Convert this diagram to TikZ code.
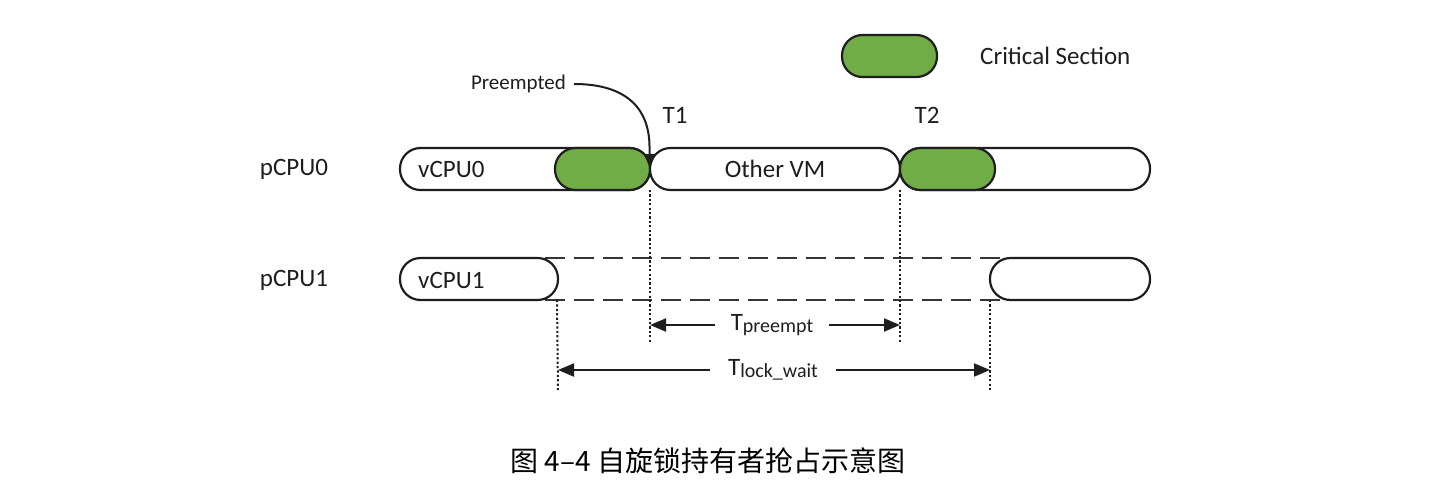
\documentclass[tikz,border=0pt]{standalone}
\usepackage{fontspec}
\setmainfont{Carlito}
\newfontfamily\cjk{Noto Sans CJK SC}
\usetikzlibrary{arrows.meta}
\definecolor{csgreen}{RGB}{112,173,71}
\definecolor{ink}{RGB}{30,30,30}
\tikzset{
  bar/.style={draw=ink, line width=2.2pt, fill=white, rounded corners=20.5pt, minimum height=42pt, inner sep=0pt, outer sep=0pt},
  crit/.style={bar, fill=csgreen},
  lbl/.style={font=\fontsize{25}{28}\selectfont, inner sep=0pt, text=ink},
  small/.style={font=\fontsize{21}{24}\selectfont, inner sep=0pt, text=ink},
  dashline/.style={draw=ink!90, line width=2.2pt, dash pattern=on 20pt off 9pt},
  dotline/.style={draw=ink, line width=2pt, dash pattern=on 2.2pt off 2.2pt},
  dimarrow/.style={draw=ink, line width=2pt, -{Triangle[length=16pt,width=13pt]}},
}
\begin{document}
\begin{tikzpicture}[x=1pt,y=-1pt]
\useasboundingbox (0,0) rectangle (1446,490);
% legend
\node[crit, minimum width=95pt] (leg) at (889.5,56) {};
\node[lbl, anchor=west] (legt) at (980,56) {Critical Section};
% row labels
\node[lbl] (p0) at (294,169) {pCPU0};
\node[lbl] (p1) at (294,280) {pCPU1};
% dashed lines row 1
\coordinate (da1) at (545,258);
\coordinate (da2) at (1003,258);
\coordinate (db1) at (545,300);
\coordinate (db2) at (1003,300);
\draw[dashline] (da1) -- (da2);
\draw[dashline] (db1) -- (db2);
% row 0 bars
\node[bar, minimum width=250pt] (v0) at (525,169) {};
\node[crit, minimum width=95pt] (c0) at (602.5,169) {};
\node[bar, minimum width=250pt] (ovm) at (775,169) {};
\node[bar, minimum width=250pt] (r0) at (1025,169) {};
\node[crit, minimum width=95pt] (c1) at (947.5,169) {};
\node[lbl, anchor=west] (v0t) at (418,169) {vCPU0};
\node[lbl] (ovmt) at (775,169) {Other VM};
% row 1 bars
\node[bar, minimum width=158pt] (v1) at (479,279) {};
\node[bar, minimum width=160pt] (r1) at (1070,279) {};
\node[lbl, anchor=west] (v1t) at (418,280) {vCPU1};
% T labels
\node[lbl] (t1) at (675,115) {T1};
\node[lbl] (t2) at (927,115) {T2};
% preempted
\node[small, anchor=east] (pre) at (566,84) {Preempted};
\coordinate (hit) at (650,168);
\draw[draw=ink, line width=2pt, -{Triangle[length=14pt,width=11pt]}] (pre.east) ++(8,0) .. controls (626,84) and (649,108) .. (649.5,146) -- (hit);
% dotted verticals
\coordinate (e1) at (650,342);
\coordinate (e2) at (900,342);
\coordinate (e3) at (558,392);
\coordinate (e4) at (990,392);
\draw[dotline] (c0.south east) -- (e1);
\draw[dotline] (c1.south west) -- (e2);
\draw[dotline] (v1.south east) ++(-1,0) -- (e3);
\draw[dotline] (r1.south west) -- (e4);
% dimension arrows
\coordinate (ta) at (650,325);
\coordinate (tb) at (900,325);
\node[lbl, fill=white, inner xsep=16pt] (tp) at (772,325) {T{\fontsize{20}{22}\selectfont\raisebox{-2pt}{preempt}}};
\draw[dimarrow] (tp.west) -- (ta);
\draw[dimarrow] (tp.east) -- (tb);
\coordinate (la) at (558,370);
\coordinate (lb) at (990,370);
\node[lbl, fill=white, inner xsep=18pt] (tl) at (773,370) {T{\fontsize{20}{22}\selectfont\raisebox{-2pt}{lock\_wait}}};
\draw[dimarrow] (tl.west) -- (la);
\draw[dimarrow] (tl.east) -- (lb);
% caption
\node[font=\cjk\fontsize{28}{32}\selectfont, inner sep=0pt, text=black] (cap) at (708,461) {图 4–4 自旋锁持有者抢占示意图};
\end{tikzpicture}
\end{document}
